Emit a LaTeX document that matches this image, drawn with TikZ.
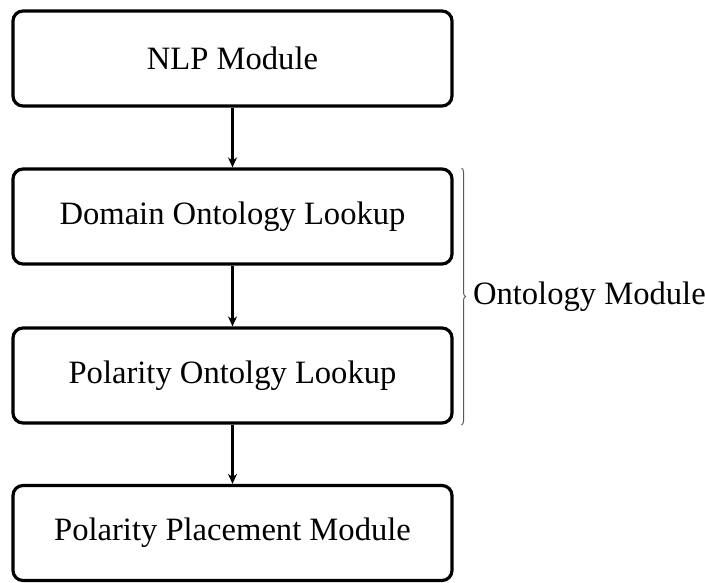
\documentclass[tikz,border=0pt]{standalone}
\usepackage{fontspec}
\setmainfont{Liberation Serif}
\usetikzlibrary{arrows.meta,decorations.pathreplacing}
\begin{document}
\begin{tikzpicture}[x=1pt,y=-1pt,
  modbox/.style={draw,line width=3.2pt,rounded corners=10pt,minimum width=439pt,minimum height=95pt,inner sep=0pt,font=\fontsize{32.6}{39}\selectfont},
  flow/.style={line width=2.2pt,-{Stealth[length=10pt,width=9pt]}},
  bracestyle/.style={draw=black!65,line width=1pt,decorate,decoration={brace,amplitude=4pt}}]
\useasboundingbox (0,0) rectangle (705,582);
\node[modbox] (nlp) at (232.5,58.5) {NLP Module};
\node[modbox] (dom) at (232.5,216.5) {Domain Ontology Lookup};
\node[modbox] (pol) at (232.5,375.5) {Polarity Ontolgy Lookup};
\node[modbox] (place) at (232.5,533) {Polarity Placement Module};
\draw[flow] (nlp) -- (dom);
\draw[flow] (dom) -- (pol);
\draw[flow] (pol) -- (place);
\coordinate (btop) at (461.5,168);
\coordinate (bbot) at (461.5,425);
\draw[bracestyle] (btop) -- (bbot) node[midway,right=11pt,font=\fontsize{32.6}{39}\selectfont,inner sep=0pt] (ont) {Ontology Module};
\end{tikzpicture}
\end{document}
